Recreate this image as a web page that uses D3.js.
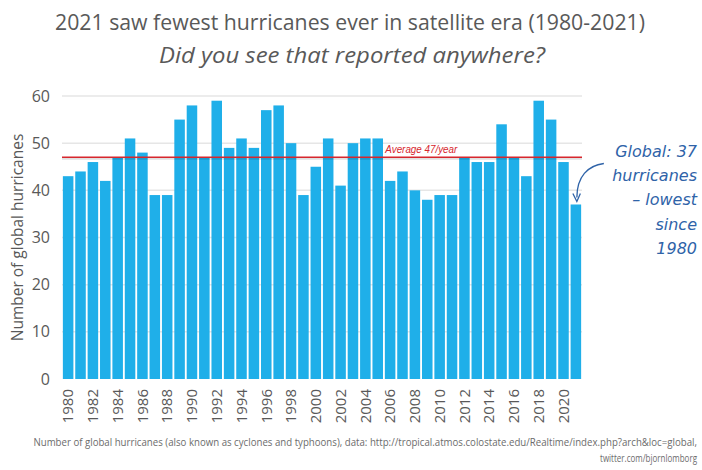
<!DOCTYPE html>
<html><head><meta charset="utf-8">
<script src="https://cdn.jsdelivr.net/npm/d3@7"></script>
<style>body{margin:0;background:#fff}svg{display:block}</style>
</head><body>
<script>
const years = d3.range(1980, 2022);
const hurricanes = [43,44,46,42,47,51,48,39,39,55,58,47,59,49,51,49,57,58,50,39,45,51,41,50,51,51,42,44,40,38,39,39,47,46,46,54,47,43,59,55,46,37];
const yTicks = [0,10,20,30,40,50,60];
const xTickLabels = years.filter(y => y % 2 === 0);
const average = 47;
const titleText = "2021 saw fewest hurricanes ever in satellite era (1980-2021)";
const subtitleText = "Did you see that reported anywhere?";
const yTitle = "Number of global hurricanes";
const avgLabel = "Average 47/year";
const noteLines = ["Global: 37","hurricanes","– lowest","since","1980"];
const footerLines = ["Number of global hurricanes (also known as cyclones and typhoons), data: http://tropical.atmos.colostate.edu/Realtime/index.php?arch&loc=global,","twitter.com/bjornlomborg"];

const W = 702, H = 470;
const m = {left:62, right:120, top:96, bottom:91};
const svg = d3.select("body").append("svg").attr("width", W).attr("height", H);
const font = "'Open Sans', sans-serif";
const gray = "#595959";

const x = d3.scaleBand().domain(years).range([m.left, W - m.right]).paddingInner(0.15).paddingOuter(0.07);
const y = d3.scaleLinear().domain([0,60]).range([H - m.bottom, m.top]);

// gridlines
svg.append("g").selectAll("line").data(yTicks.filter(d=>d>0)).join("line")
  .attr("x1", m.left).attr("x2", W - m.right)
  .attr("y1", d => y(d)).attr("y2", d => y(d))
  .attr("stroke", "#e6e6e6").attr("stroke-width", 1.5);

// bars
svg.append("g").selectAll("rect").data(years).join("rect")
  .attr("x", d => x(d)).attr("width", x.bandwidth())
  .attr("y", (d,i) => y(hurricanes[i]))
  .attr("height", (d,i) => y(0) - y(hurricanes[i]))
  .attr("fill", "#1fafe9");

// average line
svg.append("line").attr("x1", m.left).attr("x2", W - m.right)
  .attr("y1", y(average)+1.5).attr("y2", y(average)+1.5)
  .attr("stroke", "#000").attr("stroke-opacity", 0.12).attr("stroke-width", 2);
svg.append("line").attr("x1", m.left).attr("x2", W - m.right)
  .attr("y1", y(average)).attr("y2", y(average))
  .attr("stroke", "#d7262d").attr("stroke-width", 1.6);
svg.append("text").attr("x", x(2006) + 0.5).attr("y", y(average) - 4)
  .attr("font-family", "'Liberation Sans', sans-serif").attr("font-style", "italic")
  .attr("font-size", 10).attr("fill", "#d7262d")
  .attr("textLength", 72).attr("lengthAdjust", "spacingAndGlyphs").text(avgLabel);

// y axis
const yAxis = svg.append("g").attr("transform", `translate(${m.left - 12},0)`)
  .call(d3.axisLeft(y).tickValues(yTicks).tickSize(0).tickPadding(0));
yAxis.select(".domain").remove();
yAxis.selectAll("text").attr("font-family", font).attr("font-size", 16).attr("fill", gray);

// x axis
const xAxis = svg.append("g").attr("transform", `translate(0,${y(0)})`)
  .call(d3.axisBottom(x).tickValues(xTickLabels).tickSize(0).tickPadding(0));
xAxis.select(".domain").remove();
xAxis.selectAll("text")
  .attr("font-family", font).attr("font-size", 15).attr("fill", gray)
  .attr("transform", "rotate(-90)")
  .attr("text-anchor", "end").attr("dy", "0.35em")
  .attr("x", -10).attr("y", 0);

// y title
svg.append("text").attr("transform", `translate(23,${(y(0)+y(60))/2}) rotate(-90)`)
  .attr("text-anchor", "middle").attr("font-family", font).attr("font-size", 15.5)
  .attr("fill", gray).text(yTitle);

// titles
svg.append("text").attr("x", 350).attr("y", 30).attr("text-anchor", "middle")
  .attr("font-family", font).attr("font-size", 22).attr("fill", gray)
  .attr("textLength", 590).attr("lengthAdjust", "spacingAndGlyphs").text(titleText);
svg.append("text").attr("x", 352).attr("y", 63).attr("text-anchor", "middle")
  .attr("font-family", font).attr("font-style", "italic").attr("font-size", 22).attr("fill", gray)
  .attr("textLength", 386).attr("lengthAdjust", "spacingAndGlyphs").text(subtitleText);

// annotation
const blue = "#2f63a8";
const noteY = [157, 181, 205, 230, 254];
svg.append("g").selectAll("text").data(noteLines).join("text")
  .attr("x", 697).attr("y", (d,i) => noteY[i]).attr("text-anchor", "end")
  .attr("font-family", "'DejaVu Sans', sans-serif").attr("font-style", "italic")
  .attr("font-size", 16).attr("fill", blue).text(d => d);

const tx = x(2021) + x.bandwidth()/2;
const ty = y(hurricanes[hurricanes.length-1]);
svg.append("path")
  .attr("d", `M${tx+28},${ty-41} C${tx+12},${ty-39} ${tx+1},${ty-28} ${tx+1},${ty-7}`)
  .attr("fill", "none").attr("stroke", blue).attr("stroke-width", 1.3);
svg.append("path")
  .attr("d", `M${tx-3},${ty-11} L${tx+1},${ty-3} L${tx+4.5},${ty-11}`)
  .attr("fill", "none").attr("stroke", blue).attr("stroke-width", 1.3);

// footer: horizontally condensed via transform so box fits
const footerWidths = [664, 97];
footerLines.forEach((line, i) => {
  const g = svg.append("g");
  const t = g.append("text").attr("x", 0).attr("y", 0).attr("text-anchor", "end")
    .attr("font-family", font).attr("font-size", 10).attr("fill", "#6b6b6b").text(line);
  const nat = t.node().getComputedTextLength();
  const sx = footerWidths[i] / nat;
  g.attr("transform", `translate(697,${446 + i*15.5}) scale(${sx},1)`);
});
</script>
</body></html>
